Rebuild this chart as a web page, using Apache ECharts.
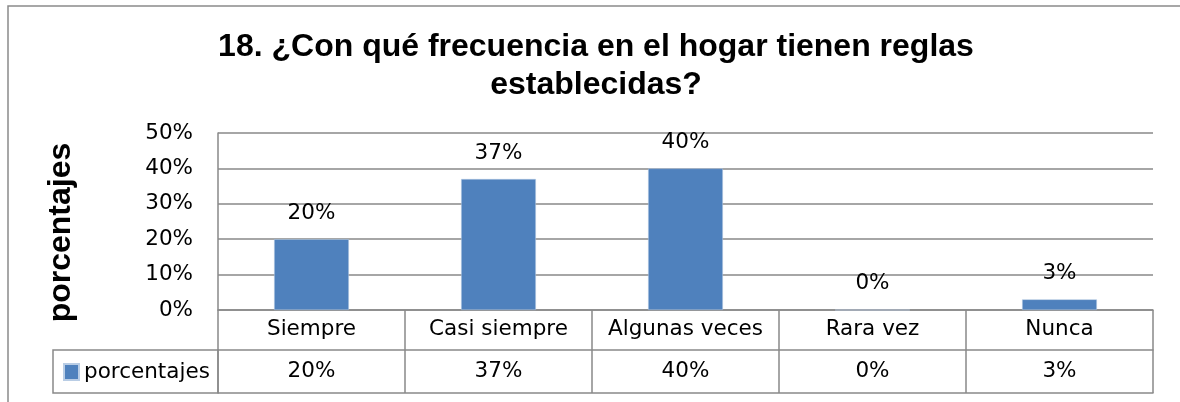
<!DOCTYPE html>
<html>
<head>
<meta charset="utf-8">
<script src="https://cdn.jsdelivr.net/npm/echarts@6/dist/echarts.min.js"></script>
<style>
  html, body { margin: 0; padding: 0; background: #fff; }
  #chart { width: 1180px; height: 402px; }
</style>
</head>
<body>
<div id="chart"></div>
<script>
// datos del gráfico
var categorias = ['Siempre', 'Casi siempre', 'Algunas veces', 'Rara vez', 'Nunca'];
var porcentajes = [20, 37, 40, 0, 3];
var ticksY = [0, 10, 20, 30, 40, 50];
var serieNombre = 'porcentajes';
var titulo = '18. ¿Con qué frecuencia en el hogar tienen reglas\nestablecidas?';

var gris = '#898989';
var fuente = '"DejaVu Sans", sans-serif';
var tam = 21.5;

var myChart = echarts.init(document.getElementById('chart'), null, { renderer: 'canvas' });

var option = {
  backgroundColor: '#fff',
  animation: false,
  title: {
    text: titulo,
    left: 596,
    top: 28,
    textAlign: 'center',
    padding: 0,
    textStyle: {
      fontFamily: '"Liberation Sans", Arial, sans-serif',
      fontWeight: 'bold',
      fontSize: 32,
      lineHeight: 38,
      color: '#000'
    }
  },
  legend: {
    data: [serieNombre],
    left: 63,
    top: 361,
    padding: 0,
    icon: 'rect',
    itemWidth: 15,
    itemHeight: 16,
    textStyle: { fontFamily: fuente, fontSize: tam, color: '#000' }
  },
  grid: { left: 218, right: 27, top: 133, bottom: 92 },
  xAxis: [
    {
      type: 'category',
      data: categorias,
      position: 'bottom',
      axisLine: { show: true, lineStyle: { color: gris, width: 1.5 } },
      axisTick: { show: true, interval: 0, length: 83, lineStyle: { color: gris, width: 1.5 } },
      axisLabel: { interval: 0, margin: 8, fontFamily: fuente, fontSize: tam, color: '#000' }
    },
    {
      // fila de valores de la tabla de datos
      type: 'category',
      data: categorias,
      position: 'bottom',
      offset: 40,
      axisLine: { show: true, lineStyle: { color: gris, width: 1.5 } },
      axisTick: { show: false },
      axisLabel: {
        interval: 0, margin: 10, fontFamily: fuente, fontSize: tam, color: '#000',
        formatter: function (value, index) { return porcentajes[index] + '%'; }
      }
    },
    {
      type: 'category',
      data: categorias,
      position: 'bottom',
      offset: 83,
      axisLine: { show: true, lineStyle: { color: gris, width: 1.5 } },
      axisTick: { show: false },
      axisLabel: { show: false }
    }
  ],
  yAxis: {
    type: 'value',
    min: ticksY[0],
    max: ticksY[ticksY.length - 1],
    interval: 10,
    name: serieNombre,
    nameLocation: 'middle',
    nameRotate: 90,
    nameGap: 141,
    nameTextStyle: {
      fontFamily: '"Liberation Sans", Arial, sans-serif',
      fontWeight: 'bold',
      fontSize: 32,
      color: '#000',
      padding: [0, 22, 0, 0]
    },
    axisLine: { show: true, lineStyle: { color: gris, width: 1.5 } },
    axisTick: { show: false },
    axisLabel: { margin: 25, fontFamily: fuente, fontSize: tam, color: '#000', formatter: '{value}%' },
    splitLine: { show: true, lineStyle: { color: gris, width: 1.5 } }
  },
  graphic: [
    {
      // borde exterior del gráfico
      type: 'rect',
      shape: { x: 8, y: 6, width: 1200, height: 420 },
      style: { fill: 'none', stroke: '#8a8a8a', lineWidth: 1.5 },
      silent: true
    },
    {
      // celda de la leyenda en la tabla
      type: 'rect',
      shape: { x: 53, y: 350, width: 165, height: 43 },
      style: { fill: 'none', stroke: gris, lineWidth: 1.5 },
      silent: true
    }
  ],
  series: [
    {
      name: serieNombre,
      type: 'bar',
      data: porcentajes,
      barWidth: '40%',
      itemStyle: { color: '#4F81BD', borderColor: '#B9CDE5', borderWidth: 0.5 },
      label: {
        show: true,
        position: 'top',
        distance: 15,
        fontFamily: fuente,
        fontSize: tam,
        color: '#000',
        formatter: function (params) { return params.value + '%'; }
      }
    }
  ]
};

myChart.setOption(option);
</script>
</body>
</html>
